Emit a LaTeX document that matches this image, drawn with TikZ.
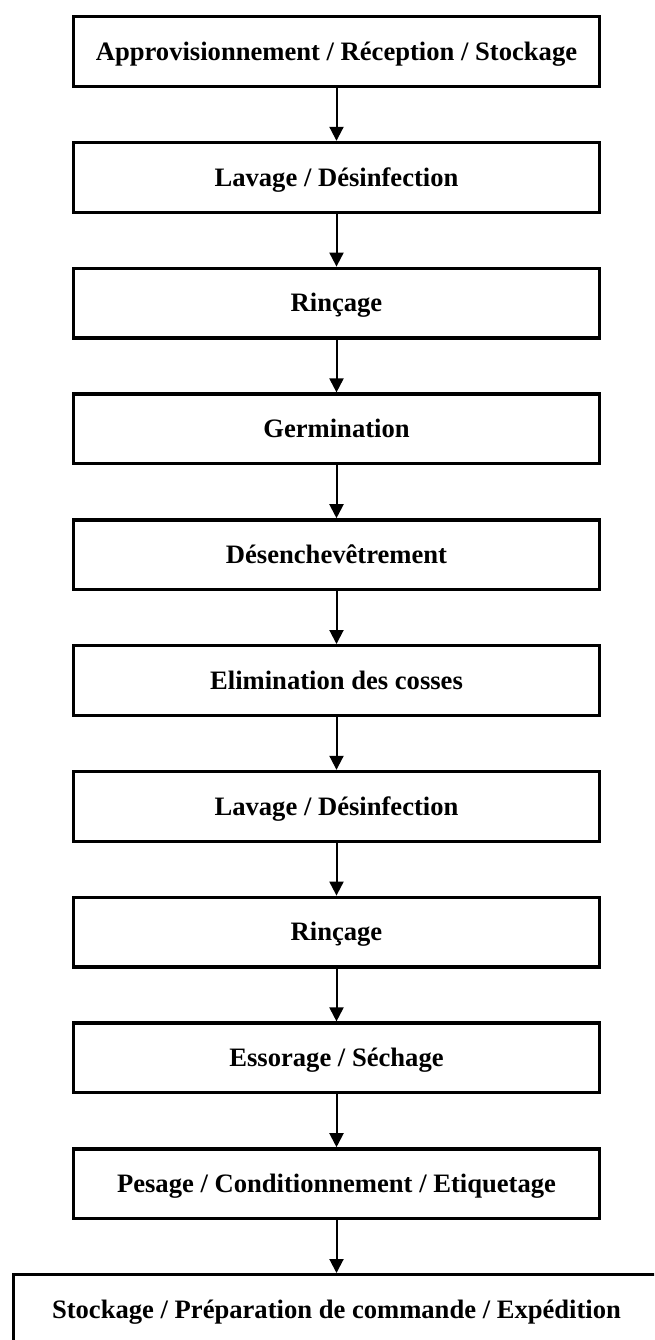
\documentclass[tikz,border=0pt]{standalone}
\usepackage{fontspec}
\setmainfont{Liberation Serif}
\usetikzlibrary{arrows.meta}

\tikzset{
  stepbox/.style={draw=black, line width=1.65pt, fill=white,
    minimum width=262.9pt, minimum height=34.85pt,
    inner sep=0pt, text height=8.8pt, text depth=0pt,
    font=\fontsize{13.3}{16}\selectfont\bfseries},
  widebox/.style={stepbox, minimum width=322.8pt},
  flow/.style={draw=black, line width=1pt,
    -{Triangle[length=7pt, width=7pt]}},
}

\begin{document}
\begin{tikzpicture}[x=1pt, y=1pt]
  \useasboundingbox (0,0) rectangle (327,-670);
  \clip (0,0) rectangle (327,-670);

  % process steps, top to bottom
  \node[stepbox] (s1)  at (168.25,-25.75)  {Approvisionnement / Réception / Stockage};
  \node[stepbox] (s2)  at (168.25,-88.65)  {Lavage / Désinfection};
  \node[stepbox] (s3)  at (168.25,-151.55) {Rinçage};
  \node[stepbox] (s4)  at (168.25,-214.45) {Germination};
  \node[stepbox] (s5)  at (168.25,-277.35) {Désenchevêtrement};
  \node[stepbox] (s6)  at (168.25,-340.25) {Elimination des cosses};
  \node[stepbox] (s7)  at (168.25,-403.15) {Lavage / Désinfection};
  \node[stepbox] (s8)  at (168.25,-466.05) {Rinçage};
  \node[stepbox] (s9)  at (168.25,-528.95) {Essorage / Séchage};
  \node[stepbox] (s10) at (168.25,-591.85) {Pesage / Conditionnement / Etiquetage};
  \node[widebox] (s11) at (168.25,-654.75) {Stockage / Préparation de commande / Expédition};

  % connectors
  \draw[flow] (s1.south) -- (s2.north);
  \draw[flow] (s2.south) -- (s3.north);
  \draw[flow] (s3.south) -- (s4.north);
  \draw[flow] (s4.south) -- (s5.north);
  \draw[flow] (s5.south) -- (s6.north);
  \draw[flow] (s6.south) -- (s7.north);
  \draw[flow] (s7.south) -- (s8.north);
  \draw[flow] (s8.south) -- (s9.north);
  \draw[flow] (s9.south) -- (s10.north);
  \draw[flow] (s10.south) -- (s11.north);
\end{tikzpicture}
\end{document}
